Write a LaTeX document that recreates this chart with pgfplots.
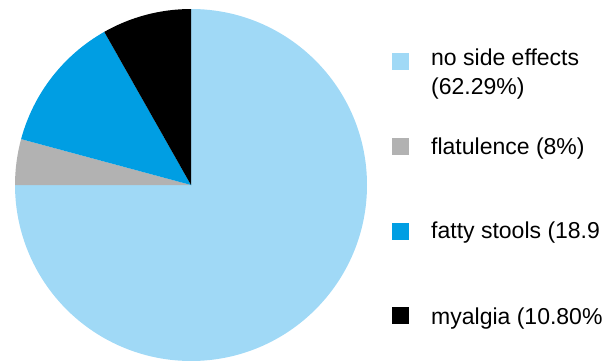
\documentclass[border=0pt]{standalone}
\usepackage{pgfplots}
\usepackage{pgfplotstable}
\pgfplotsset{compat=1.18}
\usepackage{fontspec}
\setmainfont{Liberation Sans}
\definecolor{cLight}{RGB}{160,217,246}
\definecolor{cGray}{RGB}{178,178,178}
\definecolor{cBlue}{RGB}{0,158,227}
\definecolor{cBlack}{RGB}{0,0,0}
% pie shares (percent of the circle, clockwise from 12 o'clock)
\pgfplotstableread[col sep=comma]{
share
75.0
4.2
12.6
8.2
}\piedata
\pgfplotstablegetelem{0}{share}\of\piedata\edef\sA{\pgfplotsretval}
\pgfplotstablegetelem{1}{share}\of\piedata\edef\sB{\pgfplotsretval}
\pgfplotstablegetelem{2}{share}\of\piedata\edef\sC{\pgfplotsretval}
\pgfplotstablegetelem{3}{share}\of\piedata\edef\sD{\pgfplotsretval}
\begin{document}
\begin{tikzpicture}
\begin{axis}[scale only axis, width=611pt, height=361pt,
  xmin=0, xmax=611, ymin=0, ymax=361, y dir=reverse,
  axis lines=none, clip=false]
\pgfmathsetmacro{\aA}{90}
\pgfmathsetmacro{\aB}{\aA-\sA*3.6}
\pgfmathsetmacro{\aC}{\aB-\sB*3.6}
\pgfmathsetmacro{\aD}{\aC-\sC*3.6}
\fill[cLight] (axis cs:191,185) -- ++(\aA:176pt) arc[start angle=\aA, delta angle=-\sA*3.6, radius=176pt] -- cycle;
\fill[cGray] (axis cs:191,185) -- ++(\aB:176pt) arc[start angle=\aB, delta angle=-\sB*3.6, radius=176pt] -- cycle;
\fill[cBlue] (axis cs:191,185) -- ++(\aC:176pt) arc[start angle=\aC, delta angle=-\sC*3.6, radius=176pt] -- cycle;
\fill[cBlack] (axis cs:191,185) -- ++(\aD:176pt) arc[start angle=\aD, delta angle=-\sD*3.6, radius=176pt] -- cycle;
% legend
\fill[cLight] (axis cs:392,53) rectangle (axis cs:409,70);
\fill[cGray] (axis cs:392,138) rectangle (axis cs:409,155);
\fill[cBlue] (axis cs:392,223) rectangle (axis cs:409,240);
\fill[cBlack] (axis cs:392,307) rectangle (axis cs:409,324);
\begin{scope}[every node/.style={anchor=base west, inner sep=0pt, font=\fontsize{23}{28}\selectfont}]
\node at (axis cs:431,66) {no side effects};
\node at (axis cs:431,95) {(62.29\%)};
\node at (axis cs:431,154) {flatulence (8\%)};
\node at (axis cs:431,238) {fatty stools (18.9};
\node at (axis cs:431,324) {myalgia (10.80\%};
\end{scope}
\end{axis}
\pgfresetboundingbox
\useasboundingbox (current axis.south west) rectangle (current axis.north east);
\end{tikzpicture}
\end{document}
